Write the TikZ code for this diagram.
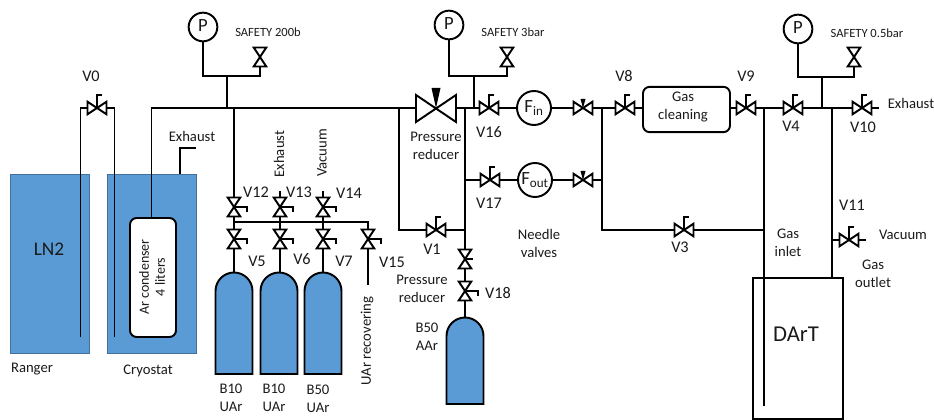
\documentclass[tikz,border=0pt]{standalone}
\usepackage{fontspec}
\setmainfont{Carlito}
\usetikzlibrary{calc}
\definecolor{tankblue}{HTML}{5B9BD5}
\definecolor{tankedge}{HTML}{41719C}
\definecolor{ink}{HTML}{1A1A1A}
\tikzset{
  x=0.75pt,y=-0.75pt,
  pipe/.style={line width=1.45pt,draw=black},
  vesselbox/.style={fill=tankblue,draw=tankedge,line width=0.8pt,inner sep=0pt,anchor=north west},
  lab/.style={inner sep=0pt,font=\fontsize{11}{13.5}\selectfont,text=ink,align=center},
  vlab/.style={inner sep=0pt,font=\fontsize{12.2}{14}\selectfont,text=ink},
  small/.style={inner sep=0pt,font=\fontsize{9.4}{11}\selectfont,text=ink},
  gauge/.style={circle,draw=black,line width=1.45pt,fill=white,inner sep=0pt,minimum size=21.5pt,font=\fontsize{14}{15}\selectfont,text=ink},
  flow/.style={circle,draw=black,line width=1.45pt,fill=white,inner sep=0pt,minimum size=25.5pt,font=\fontsize{14}{15}\selectfont,text=ink},
  roundbox/.style={draw=black,line width=1.45pt,fill=white,rounded corners=5pt,inner sep=0pt},
}
\newcommand{\valvebody}[2]{%
  \begin{scope}[shift={(#1)},rotate=#2]
    \filldraw[fill=white,draw=black,line width=1.45pt,line join=miter] (-9.5,-6.3) -- (9.5,6.3) -- (9.5,-6.3) -- (-9.5,6.3) -- cycle;
  \end{scope}}
\newcommand{\handvalve}[2]{%
  \valvebody{#1}{#2}
  \begin{scope}[shift={(#1)},rotate=#2]
    \draw[pipe] (0,0) -- (0,-13) -- (5,-13);
  \end{scope}}
\newcommand{\needlevalve}[1]{%
  \valvebody{#1}{0}
  \begin{scope}[shift={(#1)}]
    \fill[black] (-2.5,-9) -- (2.5,-9) -- (0,0) -- cycle;
  \end{scope}}
\newcommand{\bottle}[2]{% top coordinate, height
  \filldraw[fill=tankblue,draw=black,line width=1.45pt] ($(#1)+(-18.5,#2)$) -- ($(#1)+(-18.5,19)$) arc[start angle=180,end angle=360,radius=18.5] -- ($(#1)+(18.5,#2)$) -- cycle;}
\begin{document}
\begin{tikzpicture}
\useasboundingbox (0,0) rectangle (934,420);
% ---- named points
\foreach \n/\x/\y in {
  tl/80.5/337, tr/114.5/337, vA/97/108,
  mainL/151.5/108, jP/227/108, jM/234/108, jL/399/108, jR/465/108, jS/474/108,
  vF1/489/108, nF1/583/108, jN/602/108, vA8/625/108, vA9/746/108, jI/764/108, vA4/793/108,
  jT/822/108, jO/832/108, vA10/862/108, exEnd/879/108,
  exA/180/174, exB/196/148,
  sP1/203/76, sV1/260/76, vS1/260/57, sJ1/227/76,
  sP2/449/76, sV2/507/76, vS2/507/57, sJ2/474/76,
  sP3/798/77, sV3/854/77, vS3/854/57, sJ3/822/77,
  t13/280/191, t14/323/191, v12/234/207, v13/280/207, v14/323/207,
  m12/234/222, mEnd/368/222, rEnd/368/285,
  v5/234/239, v6/280/239, v7/323/239, v15/368/239,
  b1/234/272, b2/279/272, b3/323/272, b4/465/317,
  v1/436/230, j1L/399/230, j1R/465/230, v16j/465/180, v17/490/180, nF2/583/180, j2R/602/180,
  v3/684/230, j3L/602/230, j3R/764/230, pv/465/259, pvt/473/259, v18/465/291,
  v11/849/240, jV/832/240, vacE/866/240, dI/764/406, dO/832/277}
  {\coordinate (\n) at (\x,\y);}
% ---- vessels
\node[vesselbox,minimum width=59.25pt,minimum height=134.25pt] (ranger) at (10,174) {};
\node[vesselbox,minimum width=66.4pt,minimum height=134.25pt] (cryo) at (107,174) {};
\node[draw=black,line width=1.45pt,fill=white,minimum width=67.5pt,minimum height=105.75pt,inner sep=0pt,anchor=north west] (dart) at (752,277) {};
\node[roundbox,minimum width=34.5pt,minimum height=89.25pt] (cond) at (153,277.5) {};
% ---- pipes
\draw[pipe] (tl) |- (vA) -| (tr);
\draw[pipe] (cond.north -| mainL) -- (mainL) -- (exEnd);
\draw[pipe] (exA) |- (exB);
\node[gauge] (p1) at (203,27) {\raisebox{2pt}{P}};
\node[gauge] (p2) at (449,25) {\raisebox{2pt}{P}};
\node[gauge] (p3) at (798,29) {\raisebox{2pt}{P}};
\node[flow] (fin) at (534,108) {F\textsubscript{in}};
\node[flow] (fout) at (535,180) {F\textsubscript{out}};
\node[roundbox,minimum width=65.25pt,minimum height=34pt] (gc) at (686.5,109.5) {};
\draw[pipe] (p1) -- (sP1) -- (sV1) -- (vS1);
\draw[pipe] (sJ1) -- (jP);
\draw[pipe] (jM) -- (b1);
\draw[pipe] (m12) -- (mEnd) -- (rEnd);
\draw[pipe] (t13) -- (b1 -| t13);
\draw[pipe] (t14) -- (b3);
\draw[pipe] (jL) -- (j1L) -- (j1R);
\draw[pipe] (jR) -- (b4);
\draw[pipe] (v16j) -- (fout);
\draw[pipe] (fout) -- (j2R);
\draw[pipe] (p2) -- (sP2) -- (sV2) -- (vS2);
\draw[pipe] (sJ2) -- (jS);
\draw[pipe] (jN) -- (j3L) -- (j3R);
\draw[pipe] (p3) -- (sP3) -- (sV3) -- (vS3);
\draw[pipe] (sJ3) -- (jT);
\draw[pipe] (jI) -- (dI);
\draw[pipe] (jO) -- (dO);
\draw[pipe] (jV) -- (vacE);
\draw[pipe] (pv) -- (pvt);
% ---- bottles
\bottle{b1}{102}
\bottle{b2}{102}
\bottle{b3}{102}
\bottle{b4}{87}
% ---- valves
\handvalve{vA}{0}
\valvebody{vS1}{90}
\valvebody{vS2}{90}
\valvebody{vS3}{90}
\valvebody{pv}{90}
\draw[pipe] (pv) -- (pvt);
\foreach \v in {v12,v13,v14,v5,v6,v7,v15,v18}{\handvalve{\v}{-90}}
\foreach \v in {vF1,vA8,vA9,vA4,vA10,v17,v1,v3,v11}{\handvalve{\v}{0}}
\needlevalve{nF1}
\needlevalve{nF2}
% pressure reducer
\filldraw[fill=white,draw=black,line width=1.45pt] (416,95) -- (456,122) -- (456,95) -- (416,122) -- cycle;
\fill[black] (431.5,88) -- (440.5,88) -- (436,108) -- cycle;
% ---- labels
\node[vlab] (lV0) at (91,76) {V0};
\node[small] (lS1) at (268,32) {SAFETY 200b};
\node[small] (lS2) at (513,32) {SAFETY 3bar};
\node[small] (lS3) at (867,33) {SAFETY 0.5bar};
\node[lab] (lEx1) at (192,136) {Exhaust};
\node[lab,rotate=90] (lEx2) at (279,154) {Exhaust};
\node[lab,rotate=90] (lVac1) at (322,153) {Vacuum};
\node[lab,font=\fontsize{14.5}{16}\selectfont] (lLN) at (49,249) {LN2};
\node[lab] (lRan) at (32,369) {Ranger};
\node[lab] (lCry) at (148,371) {Cryostat};
\node[lab,rotate=90,font=\fontsize{10.5}{12}\selectfont] (lCond) at (152,277) {Ar condenser\\4 liters};
\node[vlab] (lV12) at (256,192) {V12};
\node[vlab] (lV13) at (299,192) {V13};
\node[vlab] (lV14) at (349,193) {V14};
\node[vlab] (lV5) at (257,261) {V5};
\node[vlab] (lV6) at (302,259) {V6};
\node[vlab] (lV7) at (344,261) {V7};
\node[vlab] (lV15) at (392,262) {V15};
\node[lab] (lB1) at (231,398) {B10\\UAr};
\node[lab] (lB2) at (274,398) {B10\\UAr};
\node[lab] (lB3) at (318,399) {B50\\UAr};
\node[lab,rotate=90] (lRec) at (367,341) {UAr recovering};
\node[lab] (lPR1) at (436,146) {Pressure\\reducer};
\node[vlab] (lV16) at (489,132) {V16};
\node[vlab] (lV17) at (489,203) {V17};
\node[vlab] (lV8) at (624,76) {V8};
\node[vlab] (lV9) at (746,76) {V9};
\node[lab] (lGC) at (683,107) {Gas\\cleaning};
\node[vlab] (lV4) at (791,126) {V4};
\node[vlab] (lV10) at (863,127) {V10};
\node[lab] (lEx3) at (911,103) {Exhaust};
\node[vlab] (lV11) at (852,205) {V11};
\node[lab] (lVac2) at (903,235) {Vacuum};
\node[lab] (lIn) at (788,243) {Gas\\inlet};
\node[lab] (lOut) at (873,274) {Gas\\outlet};
\node[lab] (lNV) at (539,243) {Needle\\valves};
\node[vlab] (lV1) at (432,249) {V1};
\node[vlab] (lV3) at (680,247) {V3};
\node[lab] (lPR2) at (422,289) {Pressure\\reducer};
\node[vlab] (lV18) at (498,293) {V18};
\node[lab] (lB4) at (427,337) {B50\\AAr};
\node[lab,font=\fontsize{17}{19}\selectfont] (lD) at (796,334) {DArT};
\end{tikzpicture}
\end{document}
